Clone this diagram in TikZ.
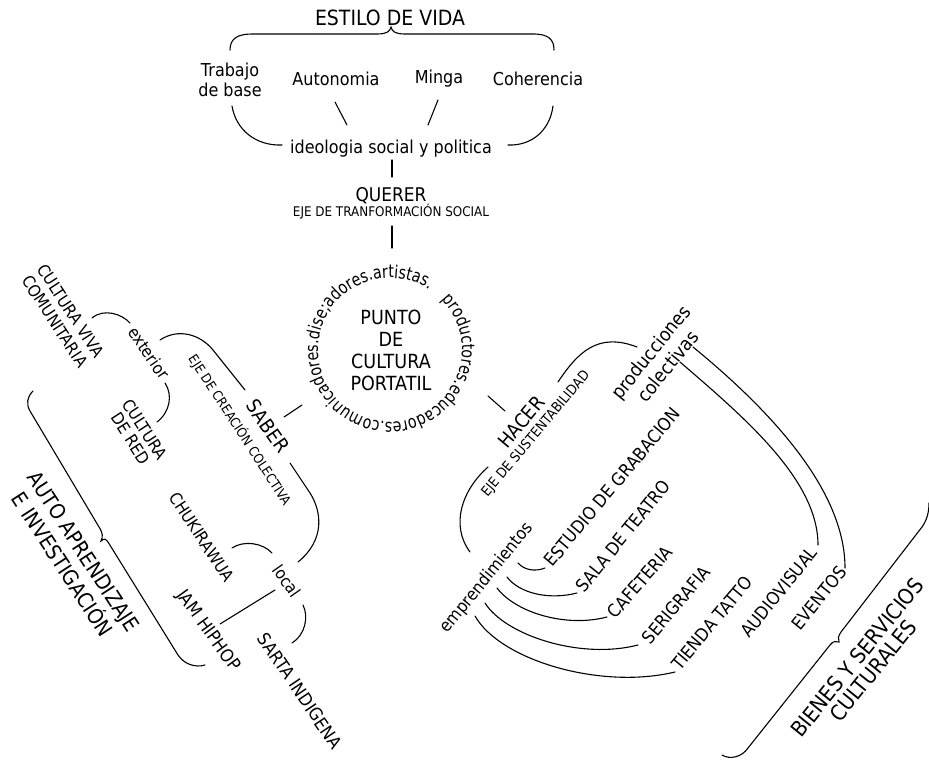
\documentclass[tikz,border=0pt]{standalone}
\usepackage{fontspec}
\setmainfont{DejaVu Sans}[FakeStretch=0.9]
\newfontfamily\circfam{DejaVu Sans}[FakeStretch=0.8]
\usetikzlibrary{decorations.text}
\newcommand{\circfont}{\circfam\fontsize{17.8}{17.8}\selectfont}
\begin{document}
\begin{tikzpicture}[x=1pt,y=-1pt,
  lbl/.style={inner sep=0pt, align=center},
  s12/.style={lbl, font=\fontsize{13.3}{15}\selectfont},
  s15/.style={lbl, font=\fontsize{16.7}{18}\selectfont},
  s16/.style={lbl, font=\fontsize{17.8}{20}\selectfont},
  s17/.style={lbl, font=\fontsize{18.9}{21}\selectfont},
  s18/.style={lbl, font=\fontsize{19.5}{22}\selectfont},
  s19/.style={lbl, font=\fontsize{21}{23}\selectfont},
  stroke/.style={draw, line width=1.1pt, line cap=round}]
\fill[white] (0,0) rectangle (929,760);
\useasboundingbox (0,0) rectangle (929,760);

% ---- top: estilo de vida
\node[s19] (estilo) at (390,18) {ESTILO DE VIDA};
\draw[stroke] (230,50) .. controls (230,39) and (237,34) .. (252,34) -- (377,34) .. controls (386,34) and (390,32) .. (391,27) .. controls (392,32) and (396,34) .. (405,34) -- (533,34) .. controls (548,34) and (554,39) .. (554,50);
\node[s16] (trabajo) at (230,80) {Trabajo\\de base};
\node[s16] (autonomia) at (336,79) {Autonomia};
\node[s16] (minga) at (439,79) {Minga};
\node[s16] (coher) at (538,79) {Coherencia};
\node[s16] (ideo) at (391,149) {ideologia social y politica};
\draw[stroke] (232,106) .. controls (236,130) and (256,146) .. (282,145);
\draw[stroke] (553,106) .. controls (550,130) and (532,146) .. (508,145);
\draw[stroke] (335,102) -- (347,125);
\draw[stroke] (438,100) -- (428,125);
\draw[stroke] (392,160) -- (392,177);
\node[s17] (querer) at (391,196) {QUERER};
\node[s12] (eje1) at (391,212) {EJE DE TRANFORMACIÓN SOCIAL};
\draw[stroke] (392,226) -- (392,248);

% ---- circle
\coordinate (c) at (390,350);
\node[s18] (punto) at (391,350) {PUNTO\\DE\\CULTURA\\PORTATIL};
\path[decorate, decoration={text along path, text align=left, text={|\circfont|productores.educadores.comunicadores.dise;adores.artistas.}}] (c) ++(-44:72) arc[start angle=-44, end angle=313, radius=72];
\draw[stroke] (302,405) -- (284,417);
\draw[stroke] (488,396) -- (505,411);

% ---- saber
\node[s18, rotate=-55] (saber) at (268,426) {SABER};
\node[s12, rotate=-57] (eje2) at (240,430) {EJE DE CREACIÓN COLECTIVA};
\draw[stroke] (160,340) .. controls (178,328) and (200,334) .. (213,350) -- (245,390);
\draw[stroke] (290,463) -- (310,493) .. controls (322,512) and (325,540) .. (298,562);
\node[s15, rotate=-55] (exterior) at (149,353) {exterior};
\draw[stroke] (92,318) .. controls (104,308) and (122,314) .. (130,323);
\draw[stroke] (165,383) .. controls (173,395) and (170,412) .. (157,422);
\node[lbl, font=\fontsize{16.7}{19}\selectfont, rotate=-57] (cvc) at (63,316) {CULTURA VIVA\\COMUNITARIA};
\node[lbl, font=\fontsize{16.7}{17}\selectfont, rotate=-57] (red) at (138,434) {CULTURA\\DE RED};
\draw[stroke] (33,391) .. controls (27,397) and (26,404) .. (30,411) -- (99,527) .. controls (103,533) and (103,537) .. (101,541) .. controls (104,538) and (106,539) .. (108,542) -- (178,655) .. controls (184,664) and (195,668) .. (205,665);
\node[lbl, font=\fontsize{21}{22}\selectfont, rotate=-57] (autoap) at (73,558) {AUTO APRENDIZAJE\\E INVESTIGACIÓN};
\node[s15, rotate=-57] (chuki) at (202,537) {CHUKIRAWUA};
\node[s16, rotate=-54] (jam) at (208,631) {JAM HIPHOP};
\node[s15, rotate=-55] (local) at (287,581) {local};
\draw[stroke] (232,548) .. controls (244,540) and (263,543) .. (272,553);
\draw[stroke] (303,605) .. controls (309,617) and (305,635) .. (292,643);
\draw[stroke] (275,590) -- (220,624);
\node[s16, rotate=-56] (sarta) at (300,691) {SARTA INDIGENA};

% ---- hacer
\node[s18, rotate=50] (hacer) at (521,422) {HACER};
\node[lbl, font=\fontsize{13.8}{15}\selectfont, rotate=50] (eje3) at (536,434) {EJE DE SUSTENTABILIDAD};
\draw[stroke] (558,382) .. controls (578,352) and (598,332) .. (637,347);
\draw[stroke] (488,467) .. controls (462,490) and (450,525) .. (470,552);
\node[lbl, font=\fontsize{18.9}{22}\selectfont, rotate=51] (prod) at (659,359) {producciones\\colectivas};
\draw[stroke] (680,362) .. controls (745,418) and (818,480) .. (818,545);
\draw[stroke] (693,347) .. controls (770,410) and (845,490) .. (845,568);
\node[s16, rotate=51] (audio) at (779,592) {AUDIOVISUAL};
\node[s16, rotate=51] (eventos) at (819,598) {EVENTOS};
\node[lbl, font=\fontsize{17.2}{18}\selectfont, rotate=51] (empr) at (487,578) {emprendimientos};
\draw[stroke] (518,563) .. controls (524,570) and (535,572) .. (545,568);
\draw[stroke] (507,577) .. controls (520,594) and (550,600) .. (577,593);
\draw[stroke] (497,588) .. controls (515,612) and (565,628) .. (607,617);
\draw[stroke] (485,603) .. controls (505,635) and (580,660) .. (638,645);
\draw[stroke] (475,616) .. controls (500,660) and (600,690) .. (675,672);
\node[s16, rotate=50] (estudio) at (612,487) {ESTUDIO DE GRABACION};
\node[s16, rotate=51] (sala) at (623,536) {SALA DE TEATRO};
\node[s16, rotate=49] (cafe) at (640,582) {CAFETERIA};
\node[s16, rotate=50] (seri) at (676,605) {SERIGRAFIA};
\node[s16, rotate=50] (tienda) at (712,623) {TIENDA TATTO};
\draw[stroke] (722,755) .. controls (730,760) and (742,757) .. (748,748) -- (830,645) .. controls (833,641) and (836,641) .. (839,642) .. controls (838,639) and (838,636) .. (841,632) -- (922,527) .. controls (927,520) and (929,512) .. (929,503);
\node[lbl, font=\fontsize{21.5}{20.5}\selectfont, rotate=51] (bienes) at (865,664) {BIENES Y SERVICIOS\\CULTURALES};
\end{tikzpicture}
\end{document}
